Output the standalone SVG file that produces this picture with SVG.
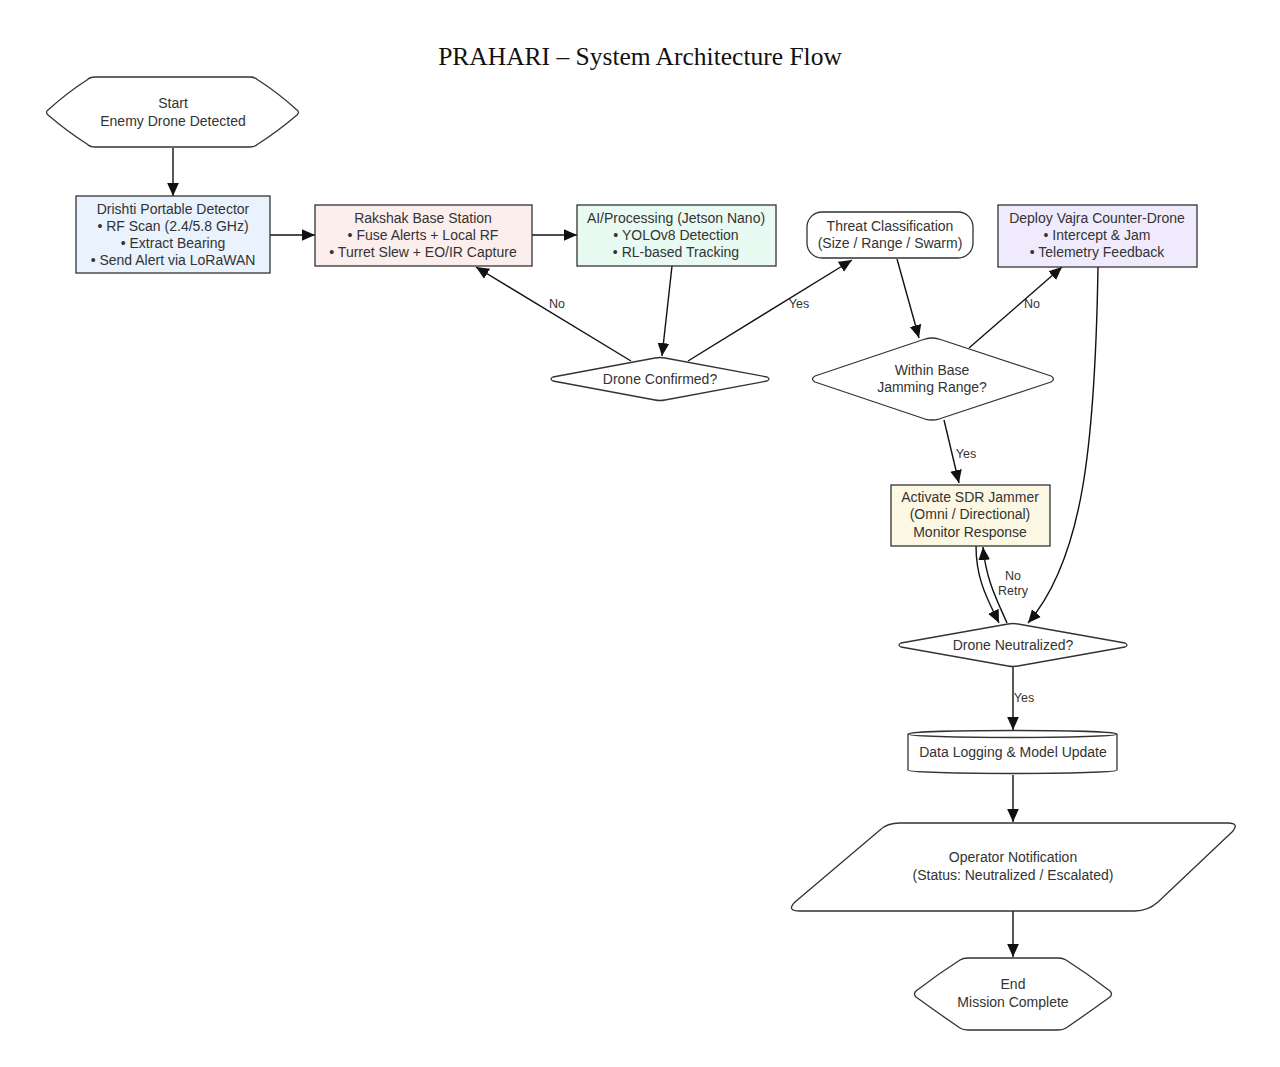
<svg xmlns="http://www.w3.org/2000/svg" width="1280" height="1067" viewBox="0 0 1280 1067">
<style>
.n{stroke:#333;stroke-width:1.3;}
.t{font-family:"Liberation Sans",Arial,sans-serif;font-size:14px;fill:#333;text-anchor:middle;}
.l{font-family:"Liberation Sans",Arial,sans-serif;font-size:12.5px;fill:#333;text-anchor:middle;}
.e{fill:none;stroke:#111;stroke-width:1.4;}
</style>
<defs>
<marker id="a" viewBox="0 0 10 10" refX="10" refY="5" markerWidth="13" markerHeight="13" markerUnits="userSpaceOnUse" orient="auto">
<path d="M0,0.5 L10,5 L0,9.5 z" fill="#111"/>
</marker>
</defs>
<rect width="1280" height="1067" fill="#fff"/>
<text x="640" y="65" style="font-family:'Liberation Serif','Times New Roman',serif;font-size:25.5px;fill:#111;" text-anchor="middle">PRAHARI – System Architecture Flow</text>

<g id="connectors">
<path class="e" d="M173,148 L173,196" marker-end="url(#a)"/>
<path class="e" d="M270,235 L315,235" marker-end="url(#a)"/>
<path class="e" d="M532,235 L577,235" marker-end="url(#a)"/>
<path class="e" d="M672,266 L662,356" marker-end="url(#a)"/>
<path class="e" d="M631,361 L476,267" marker-end="url(#a)"/>
<text class="l" x="557" y="308">No</text>
<path class="e" d="M688,361 L852,260" marker-end="url(#a)"/>
<text class="l" x="799" y="308">Yes</text>
<path class="e" d="M897,259 L919,338" marker-end="url(#a)"/>
<path class="e" d="M969,348 L1062,267" marker-end="url(#a)"/>
<text class="l" x="1032" y="308">No</text>
<path class="e" d="M944,420 L959,483" marker-end="url(#a)"/>
<text class="l" x="966" y="458">Yes</text>
<path class="e" d="M976,546 C976,580 988,600 999,623" marker-end="url(#a)"/>
<path class="e" d="M1007,623 C997,600 986,580 983,547" marker-end="url(#a)"/>
<text class="l" x="1013" y="580">No</text>
<text class="l" x="1013" y="595">Retry</text>
<path class="e" d="M1098,267 C1095,450 1082,560 1028,623" marker-end="url(#a)"/>
<path class="e" d="M1013,667 L1013,730" marker-end="url(#a)"/>
<text class="l" x="1024" y="702">Yes</text>
<path class="e" d="M1013,775 L1013,822" marker-end="url(#a)"/>
<path class="e" d="M1013,911 L1013,957" marker-end="url(#a)"/>
</g>

<g id="start">
<path class="n" fill="#fff" stroke-linejoin="round" d="M48,110 Q68,92 87,80 Q90,77 95,77 L250,77 Q255,77 258,80 Q277,92 297,110 Q300,112 297,115 Q277,132 258,144 Q255,147 250,147 L95,147 Q90,147 87,144 Q68,132 48,115 Q45,112 48,110 Z"/>
<text class="t" x="173" y="108">Start</text>
<text class="t" x="173" y="126">Enemy Drone Detected</text>
</g>

<g id="drishti">
<rect class="n" x="76" y="196" width="194" height="77" fill="#e9f2fd"/>
<text class="t" x="173" y="214">Drishti Portable Detector</text>
<text class="t" x="173" y="231">• RF Scan (2.4/5.8 GHz)</text>
<text class="t" x="173" y="248">• Extract Bearing</text>
<text class="t" x="173" y="265">• Send Alert via LoRaWAN</text>
</g>

<g id="rakshak">
<rect class="n" x="315" y="205" width="217" height="61" fill="#fdeeee"/>
<text class="t" x="423" y="223">Rakshak Base Station</text>
<text class="t" x="423" y="240">• Fuse Alerts + Local RF</text>
<text class="t" x="423" y="257">• Turret Slew + EO/IR Capture</text>
</g>

<g id="ai">
<rect class="n" x="577" y="205" width="199" height="61" fill="#e8faf1"/>
<text class="t" x="676" y="223">AI/Processing (Jetson Nano)</text>
<text class="t" x="676" y="240">• YOLOv8 Detection</text>
<text class="t" x="676" y="257">• RL-based Tracking</text>
</g>

<g id="confirmed">
<path class="n" fill="#fff" stroke-linejoin="round" d="M553,377 L655,358 Q660,357 665,358 L767,377 Q771,379 767,381 L665,400 Q660,401 655,400 L553,381 Q549,379 553,377 Z"/>
<text class="t" x="660" y="384">Drone Confirmed?</text>
</g>

<g id="threat">
<rect class="n" x="807" y="212" width="166" height="46" rx="15" ry="15" fill="#fff"/>
<text class="t" x="890" y="231">Threat Classification</text>
<text class="t" x="890" y="248">(Size / Range / Swarm)</text>
</g>

<g id="deploy">
<rect class="n" x="998" y="205" width="199" height="62" fill="#efebfd"/>
<text class="t" x="1097" y="223">Deploy Vajra Counter-Drone</text>
<text class="t" x="1097" y="240">• Intercept &amp; Jam</text>
<text class="t" x="1097" y="257">• Telemetry Feedback</text>
</g>

<g id="within">
<path class="n" fill="#fff" stroke-linejoin="round" d="M815,376 L925,339 Q932,337 939,339 L1051,376 Q1056,379 1051,382 L939,419 Q932,421 925,419 L815,382 Q810,379 815,376 Z"/>
<text class="t" x="932" y="375">Within Base</text>
<text class="t" x="932" y="392">Jamming Range?</text>
</g>

<g id="jammer">
<rect class="n" x="891" y="485" width="159" height="61" fill="#fdf8e3"/>
<text class="t" x="970" y="502">Activate SDR Jammer</text>
<text class="t" x="970" y="519">(Omni / Directional)</text>
<text class="t" x="970" y="537">Monitor Response</text>
</g>

<g id="neutralized">
<path class="n" fill="#fff" stroke-linejoin="round" d="M901,643 L1008,624 Q1013,623 1018,624 L1125,643 Q1129,645 1125,647 L1018,666 Q1013,667 1008,666 L901,647 Q897,645 901,643 Z"/>
<text class="t" x="1013" y="650">Drone Neutralized?</text>
</g>

<g id="logging">
<path class="n" fill="#fff" d="M908,734 L908,770 A104.5,3.5 0 0 0 1117,770 L1117,734 A104.5,3.5 0 0 0 908,734 Z"/>
<path class="n" fill="none" d="M908,734 A104.5,3.5 0 0 0 1117,734"/>
<text class="t" x="1013" y="757">Data Logging &amp; Model Update</text>
</g>

<g id="operator">
<path class="n" fill="#fff" stroke-linejoin="round" d="M880,830 Q887,823 900,823 L1228,823 Q1240,823 1232,832 L1158,902 Q1148,911 1135,911 L800,911 Q786,911 795,902 Z"/>
<text class="t" x="1013" y="862">Operator Notification</text>
<text class="t" x="1013" y="880">(Status: Neutralized / Escalated)</text>
</g>

<g id="end">
<path class="n" fill="#fff" stroke-linejoin="round" d="M916,991 Q938,974 960,960 Q963,958 968,958 L1058,958 Q1063,958 1066,960 Q1088,974 1110,991 Q1113,994 1110,997 Q1088,1013 1066,1028 Q1063,1030 1058,1030 L968,1030 Q963,1030 960,1028 Q938,1013 916,997 Q913,994 916,991 Z"/>
<text class="t" x="1013" y="989">End</text>
<text class="t" x="1013" y="1007">Mission Complete</text>
</g>
</svg>
